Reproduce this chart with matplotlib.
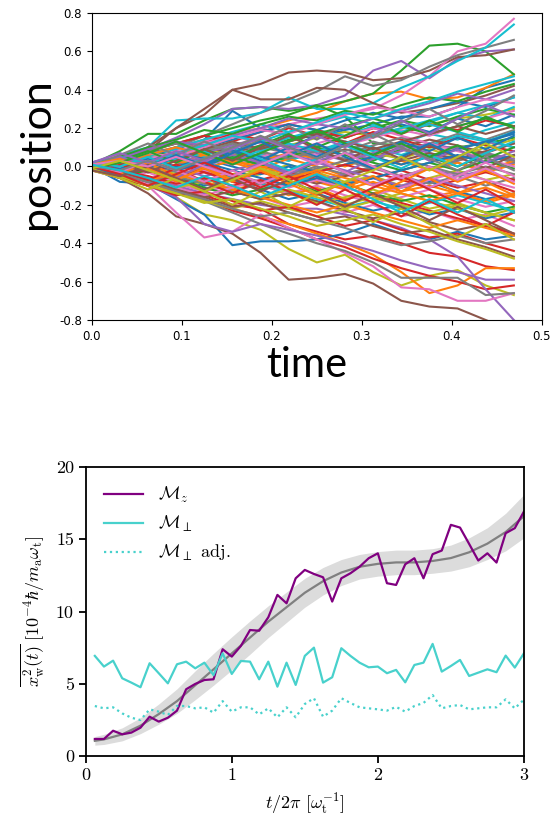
import matplotlib
matplotlib.use('Agg')
import matplotlib.pyplot as plt

# ---- top panel: random walks (dt = 1/32) ----
time = [0.0, 0.03125, 0.0625, 0.09375, 0.125, 0.15625, 0.1875, 0.21875,
        0.25, 0.28125, 0.3125, 0.34375, 0.375, 0.40625, 0.4375, 0.46875]

walks = [
    [0.01, 0.05, 0.04, 0.09, 0.14, 0.29, 0.20, 0.16, 0.15, 0.19, 0.22, 0.26, 0.26, 0.31, 0.41, 0.45],
    [0.00, 0.03, 0.07, 0.10, 0.14, 0.17, 0.20, 0.24, 0.28, 0.34, 0.38, 0.39, 0.35, 0.36, 0.41, 0.48],
    [0.01, 0.08, 0.17, 0.17, 0.24, 0.30, 0.31, 0.29, 0.31, 0.34, 0.38, 0.50, 0.63, 0.64, 0.60, 0.48],
    [0.00, -0.03, -0.07, -0.10, -0.15, -0.20, -0.22, -0.30, -0.34, -0.38, -0.36, -0.40, -0.45, -0.47, -0.52, -0.54],
    [0.01, 0.04, 0.09, 0.15, 0.22, 0.30, 0.31, 0.30, 0.32, 0.37, 0.50, 0.55, 0.46, 0.56, 0.60, 0.61],
    [0.00, 0.03, 0.08, 0.20, 0.27, 0.40, 0.43, 0.49, 0.50, 0.49, 0.45, 0.46, 0.50, 0.57, 0.58, 0.61],
    [0.01, 0.03, 0.06, 0.10, 0.13, 0.17, 0.20, 0.22, 0.25, 0.27, 0.30, 0.37, 0.47, 0.60, 0.64, 0.77],
    [0.00, 0.02, 0.06, 0.10, 0.16, 0.22, 0.28, 0.33, 0.39, 0.47, 0.42, 0.45, 0.52, 0.58, 0.62, 0.66],
    [0.00, -0.04, -0.09, -0.16, -0.25, -0.28, -0.33, -0.43, -0.50, -0.46, -0.55, -0.62, -0.57, -0.54, -0.62, -0.67],
    [0.02, 0.06, 0.10, 0.24, 0.25, 0.25, 0.28, 0.36, 0.30, 0.30, 0.33, 0.41, 0.47, 0.55, 0.62, 0.74],
    [0.00, -0.08, -0.09, -0.17, -0.25, -0.41, -0.39, -0.39, -0.38, -0.35, -0.30, -0.35, -0.38, -0.34, -0.38, -0.36],
    [0.00, -0.03, -0.08, -0.14, -0.18, -0.22, -0.26, -0.30, -0.35, -0.40, -0.46, -0.55, -0.66, -0.62, -0.53, -0.53],
    [0.01, 0.04, 0.08, 0.12, 0.16, 0.20, 0.24, 0.27, 0.32, 0.26, 0.12, 0.11, 0.10, 0.10, 0.12, 0.15],
    [0.01, -0.02, -0.06, -0.12, -0.17, -0.23, -0.27, -0.32, -0.38, -0.42, -0.48, -0.53, -0.57, -0.60, -0.64, -0.62],
    [0.00, -0.02, -0.06, -0.10, -0.14, -0.17, -0.20, -0.22, -0.22, -0.25, -0.28, -0.32, -0.38, -0.47, -0.64, -0.80],
    [-0.02, -0.06, -0.14, -0.26, -0.30, -0.35, -0.45, -0.59, -0.58, -0.56, -0.61, -0.70, -0.73, -0.74, -0.80, -0.86],
    [-0.01, -0.05, -0.10, -0.24, -0.37, -0.34, -0.25, -0.32, -0.38, -0.45, -0.52, -0.63, -0.64, -0.70, -0.70, -0.66],
    [0.00, -0.03, -0.08, -0.12, -0.18, -0.24, -0.30, -0.35, -0.40, -0.44, -0.50, -0.58, -0.58, -0.58, -0.67, -0.66],
    [0.00, 0.02, 0.05, 0.08, 0.06, 0.10, 0.13, 0.11, 0.15, 0.18, 0.16, 0.20, 0.22, 0.25, 0.27, 0.30],
    [0.01, 0.05, 0.09, 0.07, 0.05, 0.02, 0.06, 0.03, 0.08, 0.11, 0.08, 0.12, 0.17, 0.14, 0.19, 0.23],
    [0.01, 0.04, 0.02, 0.07, 0.11, 0.08, 0.13, 0.10, 0.16, 0.20, 0.17, 0.22, 0.18, 0.25, 0.21, 0.27],
    [-0.01, -0.05, -0.02, -0.08, -0.06, -0.12, -0.09, -0.15, -0.11, -0.17, -0.14, -0.10, -0.16, -0.13, -0.19, -0.15],
    [0.02, 0.00, 0.05, 0.03, -0.02, 0.04, 0.01, -0.04, 0.02, 0.07, 0.03, 0.09, 0.05, 0.00, 0.06, 0.03],
    [0.00, 0.05, 0.09, 0.06, 0.12, 0.17, 0.14, 0.20, 0.16, 0.12, 0.18, 0.14, 0.10, 0.15, 0.11, 0.08],
    [-0.01, -0.05, -0.10, -0.16, -0.30, -0.34, -0.30, -0.33, -0.36, -0.40, -0.44, -0.49, -0.53, -0.55, -0.59, -0.59],
    [0.00, 0.03, 0.10, 0.20, 0.30, 0.40, 0.35, 0.35, 0.41, 0.40, 0.33, 0.28, 0.30, 0.33, 0.37, 0.42],
    [-0.02, -0.06, -0.03, -0.09, -0.13, -0.10, -0.16, -0.21, -0.18, -0.24, -0.20, -0.26, -0.23, -0.28, -0.25, -0.31],
    [0.01, 0.02, -0.03, 0.01, 0.05, 0.02, 0.07, 0.04, 0.09, 0.06, 0.11, 0.15, 0.12, 0.17, 0.14, 0.19],
    [-0.01, 0.03, 0.00, -0.05, -0.02, -0.07, -0.04, 0.01, -0.03, -0.08, -0.05, -0.10, -0.06, -0.02, -0.07, -0.04],
    [0.02, 0.06, 0.04, 0.09, 0.05, 0.01, 0.06, 0.03, 0.08, 0.13, 0.10, 0.06, 0.11, 0.16, 0.13, 0.18],
    [0.00, -0.04, -0.08, -0.05, -0.10, -0.07, -0.12, -0.17, -0.14, -0.19, -0.23, -0.20, -0.25, -0.22, -0.27, -0.24],
    [-0.02, 0.01, 0.05, 0.02, 0.06, 0.03, -0.01, 0.04, 0.00, -0.05, -0.01, 0.03, -0.02, 0.02, -0.03, 0.01],
    [0.01, -0.03, 0.00, 0.04, 0.08, 0.12, 0.09, 0.14, 0.18, 0.15, 0.20, 0.24, 0.21, 0.26, 0.30, 0.27],
    [0.00, 0.02, -0.02, -0.06, -0.03, -0.08, -0.12, -0.09, -0.05, -0.10, -0.06, -0.02, -0.07, -0.11, -0.08, -0.13],
    [-0.01, -0.04, -0.01, 0.03, 0.00, 0.05, 0.02, -0.03, -0.07, -0.04, -0.09, -0.06, -0.01, -0.05, -0.02, 0.02],
    [0.02, 0.05, 0.09, 0.13, 0.10, 0.07, 0.11, 0.08, 0.04, 0.09, 0.05, 0.10, 0.14, 0.11, 0.07, 0.12],
    [-0.02, -0.05, -0.09, -0.06, -0.02, -0.06, -0.10, -0.14, -0.10, -0.15, -0.19, -0.16, -0.12, -0.17, -0.21, -0.18],
    [0.01, 0.04, 0.01, -0.02, 0.02, 0.06, 0.10, 0.07, 0.11, 0.08, 0.13, 0.09, 0.05, 0.10, 0.06, 0.02],
    [0.00, -0.03, -0.07, -0.11, -0.08, -0.13, -0.17, -0.14, -0.19, -0.16, -0.12, -0.17, -0.22, -0.19, -0.24, -0.28],
    [-0.01, 0.02, 0.06, 0.03, 0.08, 0.05, 0.10, 0.15, 0.19, 0.16, 0.21, 0.18, 0.23, 0.28, 0.25, 0.31],
    [0.02, -0.01, 0.03, 0.07, 0.04, 0.00, -0.04, 0.00, -0.05, -0.09, -0.06, -0.11, -0.08, -0.13, -0.17, -0.14],
    [0.00, 0.04, 0.01, 0.05, 0.02, 0.06, 0.03, 0.07, 0.04, 0.00, 0.05, 0.01, 0.06, 0.02, -0.02, 0.03],
    [-0.01, -0.05, -0.02, -0.06, -0.11, -0.15, -0.12, -0.08, -0.13, -0.09, -0.14, -0.18, -0.15, -0.20, -0.24, -0.21],
    [0.01, 0.05, 0.08, 0.12, 0.16, 0.13, 0.18, 0.22, 0.19, 0.15, 0.20, 0.17, 0.22, 0.19, 0.24, 0.21],
    [0.00, -0.02, 0.02, -0.01, -0.05, -0.02, 0.02, 0.06, 0.03, 0.07, 0.04, 0.08, 0.12, 0.09, 0.13, 0.10],
    [-0.02, -0.04, -0.08, -0.12, -0.16, -0.13, -0.17, -0.14, -0.18, -0.23, -0.27, -0.24, -0.29, -0.33, -0.30, -0.35],
    [0.02, 0.06, 0.03, 0.00, 0.04, 0.01, 0.05, 0.09, 0.06, 0.11, 0.15, 0.19, 0.16, 0.21, 0.25, 0.29],
    [0.00, -0.03, 0.01, -0.03, -0.07, -0.04, -0.08, -0.04, 0.00, -0.04, 0.00, -0.05, -0.09, -0.05, -0.10, -0.06],
    [0.01, 0.03, 0.07, 0.04, 0.00, -0.04, -0.01, -0.05, -0.02, 0.03, 0.07, 0.04, 0.09, 0.05, 0.10, 0.14],
    [-0.01, 0.02, -0.01, -0.04, -0.08, -0.05, -0.09, -0.13, -0.17, -0.21, -0.18, -0.22, -0.19, -0.15, -0.19, -0.23],
    [0.02, 0.05, 0.09, 0.05, 0.10, 0.14, 0.18, 0.22, 0.19, 0.24, 0.28, 0.25, 0.30, 0.34, 0.31, 0.36],
    [0.00, -0.04, -0.01, 0.03, -0.01, 0.03, 0.00, -0.04, -0.08, -0.12, -0.08, -0.13, -0.10, -0.14, -0.11, -0.16],
    [-0.01, 0.03, 0.00, 0.04, 0.08, 0.05, 0.01, 0.05, 0.10, 0.06, 0.02, -0.02, 0.02, -0.02, 0.03, -0.01],
    [0.01, -0.02, -0.05, -0.09, -0.06, -0.10, -0.07, -0.03, -0.07, -0.11, -0.15, -0.19, -0.23, -0.27, -0.31, -0.35],
    [0.00, 0.03, 0.06, 0.10, 0.07, 0.11, 0.15, 0.11, 0.07, 0.03, 0.07, 0.11, 0.07, 0.03, 0.07, 0.04],
    [-0.02, -0.05, -0.01, -0.05, -0.01, -0.05, -0.09, -0.05, -0.09, -0.05, -0.01, 0.03, 0.07, 0.04, 0.08, 0.12],
    [0.02, 0.00, 0.04, 0.08, 0.12, 0.16, 0.12, 0.08, 0.12, 0.16, 0.20, 0.16, 0.12, 0.08, 0.04, 0.00],
    [-0.01, -0.04, -0.08, -0.05, -0.09, -0.13, -0.09, -0.05, -0.01, 0.03, -0.01, -0.05, -0.01, 0.03, 0.07, 0.03],
    [0.01, 0.04, 0.00, -0.04, -0.08, -0.12, -0.16, -0.12, -0.16, -0.20, -0.16, -0.20, -0.24, -0.20, -0.24, -0.28],
    [0.00, 0.02, 0.06, 0.10, 0.14, 0.18, 0.22, 0.18, 0.22, 0.26, 0.22, 0.18, 0.22, 0.18, 0.14, 0.10],
    [-0.02, 0.01, 0.04, 0.00, 0.04, 0.08, 0.05, 0.01, -0.03, 0.01, 0.05, 0.01, 0.05, 0.09, 0.13, 0.17],
    [0.01, -0.03, -0.07, -0.04, -0.08, -0.12, -0.16, -0.20, -0.24, -0.20, -0.24, -0.28, -0.32, -0.28, -0.32, -0.36],
    [0.00, 0.04, 0.08, 0.05, 0.01, 0.05, 0.09, 0.13, 0.17, 0.21, 0.25, 0.21, 0.17, 0.21, 0.25, 0.21],
    [-0.01, 0.01, -0.03, 0.01, -0.03, -0.07, -0.03, -0.07, -0.03, 0.01, -0.03, -0.07, -0.11, -0.07, -0.03, -0.07],
    [0.02, 0.05, 0.02, 0.06, 0.02, 0.06, 0.02, -0.02, 0.02, -0.02, -0.06, -0.10, -0.06, -0.10, -0.14, -0.18],
    [-0.01, -0.03, 0.01, 0.05, 0.09, 0.13, 0.09, 0.13, 0.17, 0.13, 0.09, 0.13, 0.17, 0.21, 0.17, 0.21],
    [0.00, -0.03, -0.07, -0.11, -0.15, -0.11, -0.07, -0.11, -0.07, -0.11, -0.15, -0.11, -0.07, -0.03, -0.07, -0.11],
    [0.01, 0.04, 0.08, 0.12, 0.08, 0.12, 0.08, 0.04, 0.08, 0.04, 0.00, 0.04, 0.00, -0.04, 0.00, -0.04],
    [-0.02, -0.06, -0.10, -0.14, -0.18, -0.22, -0.18, -0.22, -0.26, -0.22, -0.18, -0.14, -0.18, -0.22, -0.26, -0.22],
    [0.00, 0.03, 0.00, 0.04, 0.08, 0.04, 0.08, 0.12, 0.08, 0.12, 0.16, 0.20, 0.24, 0.28, 0.32, 0.36],
    [0.01, -0.02, 0.02, -0.02, 0.02, -0.02, -0.06, -0.10, -0.06, -0.10, -0.06, -0.02, 0.02, 0.06, 0.02, 0.06],
    [-0.01, 0.02, 0.06, 0.10, 0.06, 0.02, -0.02, -0.06, -0.02, -0.06, -0.10, -0.14, -0.18, -0.14, -0.18, -0.14],
    [0.01, 0.05, 0.10, 0.14, 0.19, 0.17, 0.22, 0.26, 0.24, 0.29, 0.27, 0.32, 0.36, 0.34, 0.39, 0.43],
    [-0.01, -0.06, -0.10, -0.15, -0.13, -0.18, -0.23, -0.21, -0.26, -0.31, -0.28, -0.33, -0.37, -0.35, -0.40, -0.44],
    [0.00, 0.04, 0.09, 0.13, 0.11, 0.16, 0.20, 0.25, 0.22, 0.20, 0.25, 0.29, 0.33, 0.38, 0.35, 0.40],
    [0.02, -0.03, -0.07, -0.12, -0.16, -0.21, -0.19, -0.24, -0.28, -0.26, -0.31, -0.35, -0.33, -0.38, -0.42, -0.47],
    [-0.02, 0.02, 0.07, 0.05, 0.10, 0.15, 0.19, 0.17, 0.22, 0.27, 0.31, 0.29, 0.26, 0.31, 0.35, 0.33],
    [0.01, -0.04, -0.08, -0.13, -0.17, -0.22, -0.26, -0.24, -0.28, -0.32, -0.37, -0.41, -0.39, -0.36, -0.40, -0.38],
    [0.00, -0.05, -0.10, -0.14, -0.19, -0.17, -0.22, -0.26, -0.31, -0.28, -0.25, -0.30, -0.34, -0.39, -0.43, -0.48],
    [0.01, 0.05, 0.02, 0.07, 0.11, 0.16, 0.13, 0.18, 0.23, 0.28, 0.25, 0.30, 0.34, 0.39, 0.43, 0.47],
    [0.00, 0.04, -0.01, 0.05, 0.01, 0.08, 0.03, 0.10, 0.05, 0.12, 0.06, 0.13, 0.08, 0.15, 0.09, 0.16],
    [0.01, -0.04, 0.02, -0.05, 0.00, -0.07, -0.02, -0.09, -0.03, -0.11, -0.05, -0.13, -0.06, -0.14, -0.08, -0.15],
    [-0.01, 0.03, 0.08, 0.02, 0.09, 0.04, 0.11, 0.17, 0.10, 0.16, 0.23, 0.17, 0.24, 0.18, 0.26, 0.20],
    [0.02, -0.02, -0.07, -0.01, -0.08, -0.14, -0.07, -0.13, -0.20, -0.12, -0.19, -0.26, -0.18, -0.25, -0.31, -0.24],
    [0.00, 0.05, 0.00, -0.06, 0.01, -0.05, 0.02, -0.04, 0.03, -0.03, 0.04, 0.10, 0.03, 0.09, 0.02, 0.08],
    [-0.02, 0.02, -0.03, 0.03, 0.09, 0.03, 0.10, 0.16, 0.09, 0.03, 0.10, 0.04, 0.11, 0.05, -0.01, 0.06],
    [0.01, -0.03, 0.03, -0.02, -0.08, -0.02, -0.09, -0.03, 0.04, -0.03, -0.10, -0.04, -0.11, -0.05, 0.02, -0.05],
    [0.00, 0.06, 0.12, 0.06, 0.13, 0.07, 0.14, 0.21, 0.14, 0.22, 0.15, 0.23, 0.30, 0.22, 0.29, 0.37],
    [-0.01, -0.06, -0.12, -0.06, -0.13, -0.20, -0.13, -0.21, -0.14, -0.22, -0.29, -0.22, -0.30, -0.37, -0.30, -0.38],
    [0.02, 0.00, 0.05, -0.01, 0.04, 0.10, 0.04, -0.02, 0.04, 0.11, 0.05, -0.01, 0.06, 0.00, 0.07, 0.13],
    [0.00, -0.05, 0.00, 0.06, 0.00, 0.07, 0.13, 0.06, 0.12, 0.05, -0.01, 0.05, 0.12, 0.05, 0.12, 0.18],
    [0.01, 0.04, -0.01, -0.07, -0.01, -0.08, -0.02, -0.09, -0.15, -0.08, -0.15, -0.08, -0.01, -0.08, -0.02, -0.09],
    [-0.01, 0.02, 0.07, 0.13, 0.07, 0.01, 0.07, 0.13, 0.19, 0.12, 0.06, 0.12, 0.05, 0.11, 0.04, 0.10],
    [0.00, -0.04, -0.10, -0.04, 0.02, -0.04, -0.11, -0.05, -0.12, -0.18, -0.11, -0.05, -0.12, -0.19, -0.12, -0.20],
    [0.02, 0.07, 0.02, 0.08, 0.03, 0.09, 0.15, 0.09, 0.16, 0.10, 0.17, 0.24, 0.17, 0.25, 0.32, 0.26],
    [-0.02, -0.05, 0.00, -0.06, -0.12, -0.06, -0.13, -0.07, -0.14, -0.21, -0.14, -0.21, -0.28, -0.21, -0.28, -0.35],
    [0.01, 0.03, 0.00, 0.05, 0.00, -0.05, 0.01, 0.07, 0.01, 0.07, 0.00, -0.06, 0.00, -0.07, -0.01, -0.08],
    [0.00, -0.02, 0.03, -0.02, 0.04, 0.10, 0.16, 0.10, 0.04, 0.11, 0.17, 0.10, 0.04, -0.02, 0.05, -0.02],
    [-0.01, 0.03, -0.02, -0.07, -0.13, -0.07, -0.01, -0.07, -0.14, -0.08, -0.02, 0.05, -0.02, 0.05, 0.12, 0.05],
    [0.01, -0.02, -0.06, -0.11, -0.05, -0.10, -0.16, -0.10, -0.04, -0.10, -0.17, -0.24, -0.17, -0.24, -0.17, -0.24],
]

# ---- bottom panel ----
t_w = [0.0625, 0.125, 0.1875, 0.25, 0.3125, 0.375, 0.4375, 0.5, 0.5625, 0.625, 0.6875, 0.75,
       0.8125, 0.875, 0.9375, 1.0, 1.0625, 1.125, 1.1875, 1.25, 1.3125, 1.375, 1.4375, 1.5,
       1.5625, 1.625, 1.6875, 1.75, 1.8125, 1.875, 1.9375, 2.0, 2.0625, 2.125, 2.1875, 2.25,
       2.3125, 2.375, 2.4375, 2.5, 2.5625, 2.625, 2.6875, 2.75, 2.8125, 2.875, 2.9375, 3.0]
m_z = [1.18, 1.18, 1.75, 1.50, 1.62, 1.96, 2.72, 2.38, 2.65, 3.14, 4.62, 4.99,
       5.26, 5.31, 7.39, 6.88, 7.62, 8.72, 8.67, 9.60, 11.15, 10.57, 12.30, 12.88,
       12.60, 12.37, 10.69, 12.30, 12.65, 13.10, 13.69, 14.03, 11.96, 11.84, 13.27, 13.69,
       12.30, 13.97, 14.22, 16.00, 15.81, 14.68, 13.53, 14.03, 13.39, 15.42, 15.77, 16.92]
m_perp = [6.93, 6.19, 6.60, 5.38, 5.08, 4.76, 6.42, 5.73, 5.03, 6.35, 6.53, 6.07,
          6.46, 5.60, 7.11, 5.68, 6.58, 6.53, 5.31, 6.53, 4.80, 6.46, 4.92, 6.93,
          7.50, 5.08, 5.45, 7.46, 6.93, 6.46, 6.14, 6.19, 5.73, 5.96, 5.10, 6.30,
          6.46, 7.76, 5.84, 6.23, 6.65, 5.54, 5.77, 6.00, 5.80, 6.95, 6.12, 7.11]
m_perp_adj = [3.46, 3.30, 3.37, 2.95, 2.65, 2.49, 3.23, 3.07, 2.84, 3.46, 3.46, 3.30,
              3.37, 3.00, 3.80, 3.07, 3.37, 3.37, 2.88, 3.30, 2.68, 3.37, 2.68, 3.60,
              4.00, 2.72, 3.14, 4.00, 3.67, 3.37, 3.30, 3.23, 3.14, 3.40, 3.07, 3.46,
              3.67, 4.22, 3.30, 3.46, 3.53, 3.23, 3.30, 3.37, 3.37, 3.92, 3.30, 3.90]

t_fit = [0.0625, 0.125, 0.25, 0.375, 0.5, 0.625, 0.75, 0.875, 1.0, 1.125, 1.25, 1.375, 1.5,
         1.625, 1.75, 1.875, 2.0, 2.125, 2.25, 2.375, 2.5, 2.625, 2.75, 2.875, 3.0]
fit = [1.05, 1.15, 1.5, 2.1, 2.9, 3.8, 4.9, 6.0, 7.1, 8.2, 9.3, 10.3, 11.3,
       12.1, 12.7, 13.1, 13.3, 13.4, 13.4, 13.5, 13.7, 14.1, 14.7, 15.5, 16.6]
fit_err = [0.3, 0.35, 0.45, 0.55, 0.7, 0.85, 1.0, 1.1, 1.15, 1.15, 1.1, 1.05, 1.0,
           0.95, 0.9, 0.85, 0.85, 0.85, 0.85, 0.85, 0.9, 1.0, 1.1, 1.3, 1.5]

fig = plt.figure(figsize=(5.54, 8.23), dpi=100)

# top panel
ax1 = fig.add_axes([0.1655, 0.6112, 0.8128, 0.373])
for w in walks:
    ax1.plot(time, w, lw=1.5)
ax1.set_xlim(0, 0.5)
ax1.set_ylim(-0.8, 0.8)
ax1.set_xticks([0.0, 0.1, 0.2, 0.3, 0.4, 0.5])
ax1.set_yticks([-0.8, -0.6, -0.4, -0.2, 0.0, 0.2, 0.4, 0.6, 0.8])
ax1.tick_params(labelsize=8.5)
fig.text(0.066, 1 - 153.5 / 823, 'position', family='Lato', fontsize=31,
         rotation=90, ha='center', va='center')
fig.text(0.554, 1 - 377 / 823, 'time', family='Lato', fontsize=30,
         ha='center', va='baseline')

# bottom panel, LaTeX-like look
plt.rcParams['mathtext.fontset'] = 'cm'
plt.rcParams['axes.unicode_minus'] = False
cm = 'cmr10'
ax2 = fig.add_axes([0.1547, 0.0814, 0.791, 0.3511])
ax2.fill_between(t_fit, [f - e for f, e in zip(fit, fit_err)],
                 [f + e for f, e in zip(fit, fit_err)], color='#dcdcdc', lw=0)
ax2.plot(t_fit, fit, color='#808080', lw=1.6)
ax2.plot(t_w, m_z, color='purple', lw=1.6, label=r'$\mathcal{M}_z$')
ax2.plot(t_w, m_perp, color='#48D1CC', lw=1.6, label=r'$\mathcal{M}_\perp$')
ax2.plot(t_w, m_perp_adj, color='#48D1CC', lw=1.6, ls=':', label=r'$\mathcal{M}_\perp$ adj.')
ax2.set_xlim(0, 3)
ax2.set_ylim(0, 20)
ax2.set_xticks([0, 1, 2, 3])
ax2.set_yticks([0, 5, 10, 15, 20])
for s in ax2.spines.values():
    s.set_linewidth(1.3)
ax2.tick_params(direction='out', length=5, width=1.3, labelsize=13)
for lab in ax2.get_xticklabels() + ax2.get_yticklabels():
    lab.set_family(cm)
ax2.set_ylabel(r'$\overline{x_{\mathrm{w}}^2(t)}\ [10^{-4}\hbar/m_{\mathrm{a}}\omega_{\mathrm{t}}]$',
               fontsize=13, labelpad=6)
ax2.set_xlabel(r'$t/2\pi\ [\omega_{\mathrm{t}}^{-1}]$', fontsize=13, labelpad=6)
leg = ax2.legend(loc='upper left', frameon=False, prop={'family': cm, 'size': 13},
                 handlelength=2.2, borderaxespad=0.6)

fig.savefig('out.png', dpi=100)
